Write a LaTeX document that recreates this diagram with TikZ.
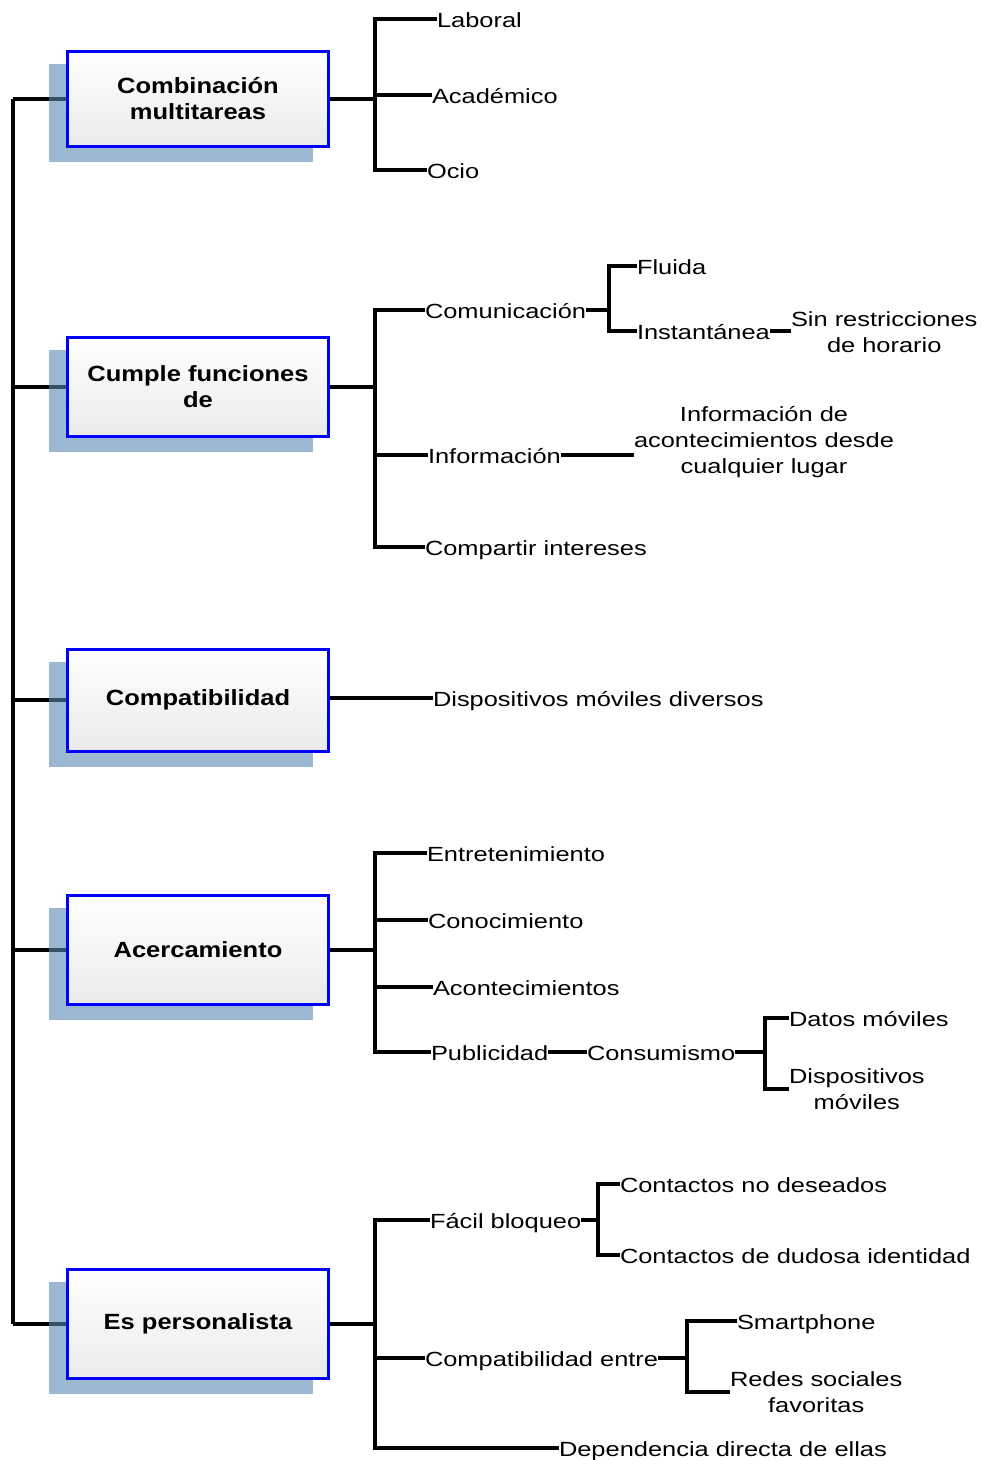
\documentclass[tikz,border=0pt]{standalone}
\usepackage{fontspec}
\newfontfamily\labfont[FakeStretch=1.24]{Liberation Sans}
\newfontfamily\boxfont[FakeStretch=1.16]{Liberation Sans}
\definecolor{shadowc}{RGB}{88,135,178}
\definecolor{boxblue}{RGB}{0,0,255}
\pgfdeclarelayer{bg}
\pgfdeclarelayer{shad}
\pgfsetlayers{bg,shad,main}
\tikzset{
  lab/.style={font=\labfont\fontsize{20.5}{26}\selectfont, inner sep=0pt, outer sep=0pt, anchor=west, text height=18pt, text depth=2pt},
  mlab/.style={font=\labfont\fontsize{20.5}{26}\selectfont, inner sep=0pt, outer sep=0pt, anchor=west, align=center},
  mainbox/.style={draw=boxblue, line width=3pt, minimum width=261pt, top color=white, bottom color=black!8, font=\boxfont\bfseries\fontsize{22}{26}\selectfont, align=center, inner sep=2pt},
  conn/.style={line width=3.2pt, black},
  shadowbox/.style={fill=shadowc, fill opacity=0.6}
}
\begin{document}
\begin{tikzpicture}[x=1pt,y=-1pt]
\useasboundingbox (0,0) rectangle (982,1460);

% boxes
\node[mainbox, minimum height=95pt] (b1) at (198,99) {Combinación\\multitareas};
\node[mainbox, minimum height=99pt] (b2) at (198,387) {Cumple funciones\\de};
\node[mainbox, minimum height=102pt] (b3) at (198,700) {Compatibilidad};
\node[mainbox, minimum height=109pt] (b4) at (198,950) {Acercamiento};
\node[mainbox, minimum height=109pt] (b5) at (198,1324) {Es personalista};

\begin{pgfonlayer}{shad}
\foreach \b in {b1,b2,b3,b4,b5}{
  \fill[shadowbox] ([shift={(-17,14)}]\b.south west) rectangle ([shift={(-17,14)}]\b.north east);
}
\end{pgfonlayer}

% trunk
\coordinate (t1) at (13,99);
\coordinate (t5) at (13,1324);
\begin{pgfonlayer}{bg}
\draw[conn] (t1) -- (t5);
\foreach \b in {b1,b2,b3,b4,b5}{
  \draw[conn] (t1 |- \b.west) -- (\b.west);
}
\end{pgfonlayer}

% ---- box 1
\coordinate (j1) at (375,99);
\node[lab] (laboral) at (437,19) {Laboral};
\node[lab] (academico) at (432,95) {Académico};
\node[lab] (ocio) at (427,170) {Ocio};
\draw[conn] (b1.east) -- (j1);
\draw[conn] (laboral.west) -| (j1) |- (ocio.west);
\draw[conn] (j1 |- academico.west) -- (academico.west);

% ---- box 2
\coordinate (j2) at (375,387);
\node[lab] (comun) at (425,310) {Comunicación};
\node[lab] (info) at (428,455) {Información};
\node[lab] (compartir) at (425,547) {Compartir intereses};
\draw[conn] (b2.east) -- (j2);
\draw[conn] (comun.west) -| (j2) |- (compartir.west);
\draw[conn] (j2 |- info.west) -- (info.west);
\coordinate (j2a) at (609,310);
\node[lab] (fluida) at (637,266) {Fluida};
\node[lab] (instant) at (637,331) {Instantánea};
\draw[conn] (comun.east) -- (j2a);
\draw[conn] (fluida.west) -| (j2a) |- (instant.west);
\node[mlab] (sinrest) at (791,332) {Sin restricciones\\de horario};
\draw[conn] (instant.east) -- (sinrest.west |- instant.east);
\node[mlab] (infodet) at (634,442) {Información de\\acontecimientos desde\\cualquier lugar};
\draw[conn] (info.east) -- (infodet.west |- info.east);

% ---- box 3
\node[lab] (dispdiv) at (433,698) {Dispositivos móviles diversos};
\draw[conn] (b3.east |- dispdiv.west) -- (dispdiv.west);

% ---- box 4
\coordinate (j4) at (375,950);
\node[lab] (entre) at (427,853) {Entretenimiento};
\node[lab] (conoc) at (428,920) {Conocimiento};
\node[lab] (acont) at (433,987) {Acontecimientos};
\node[lab] (public) at (431,1052) {Publicidad};
\draw[conn] (b4.east) -- (j4);
\draw[conn] (entre.west) -| (j4) |- (public.west);
\draw[conn] (j4 |- conoc.west) -- (conoc.west);
\draw[conn] (j4 |- acont.west) -- (acont.west);
\node[lab] (consum) at (587,1052) {Consumismo};
\draw[conn] (public.east) -- (consum.west);
\coordinate (j4a) at (765,1052);
\node[lab] (datos) at (789,1018) {Datos móviles};
\node[mlab] (dispmov) at (789,1089) {Dispositivos\\móviles};
\draw[conn] (consum.east) -- (j4a);
\draw[conn] (datos.west) -| (j4a) |- (dispmov.west);

% ---- box 5
\coordinate (j5) at (375,1324);
\node[lab] (facil) at (430,1220) {Fácil bloqueo};
\node[lab] (compat) at (425,1358) {Compatibilidad entre};
\node[lab] (depend) at (559,1448) {Dependencia directa de ellas};
\draw[conn] (b5.east) -- (j5);
\draw[conn] (facil.west) -| (j5) |- (depend.west);
\draw[conn] (j5 |- compat.west) -- (compat.west);
\coordinate (j5a) at (598,1220);
\node[lab] (contno) at (620,1184) {Contactos no deseados};
\node[lab] (contdu) at (620,1255) {Contactos de dudosa identidad};
\draw[conn] (facil.east) -- (j5a);
\draw[conn] (contno.west) -| (j5a) |- (contdu.west);
\coordinate (j5b) at (687,1358);
\node[lab] (smart) at (737,1321) {Smartphone};
\node[mlab] (redes) at (730,1392) {Redes sociales\\favoritas};
\draw[conn] (compat.east) -- (j5b);
\draw[conn] (smart.west) -| (j5b) |- (redes.west);
\end{tikzpicture}
\end{document}
